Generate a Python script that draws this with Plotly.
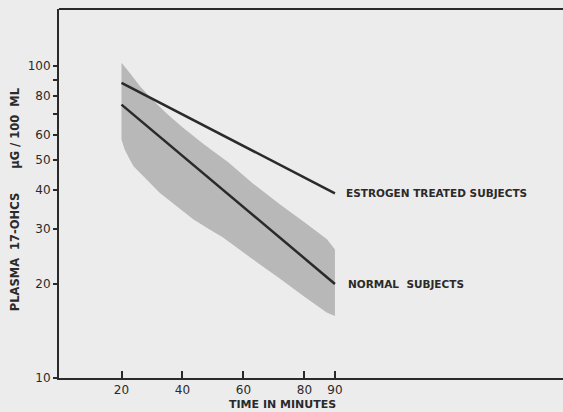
import math
import plotly.graph_objects as go

# Data
time_pts = [20, 90]
estrogen = [88, 39]
normal = [75, 20]

band_upper_x = [20, 23, 26, 30, 35, 40, 47, 55, 63, 71.9, 80, 87.4, 90, 90]
band_upper_y = [102, 94, 86, 78, 70, 63.5, 56, 49, 42, 36, 31.5, 27.8, 25.8, 15.8]
band_lower_x = [87.3, 80, 71.9, 62, 53.2, 48.9, 43.5, 38.0, 32.5, 27.1, 24, 22.7, 21, 20]
band_lower_y = [16.2, 18.2, 20.8, 24.4, 28.2, 29.9, 32.2, 35.5, 39.2, 44.3, 47.5, 50, 54, 58]

x_ticks = [20, 40, 60, 80, 90]
y_ticks = [10, 20, 30, 40, 50, 60, 70, 80, 90, 100]
y_ticktext = ["10", "20", "30", "40", "50", "60", "", "80", "", "100"]

INK = "#2a2a2a"
FONT = "DejaVu Sans"

fig = go.Figure()
fig.add_trace(go.Scatter(
    x=band_upper_x + band_lower_x,
    y=band_upper_y + band_lower_y,
    fill="toself", mode="none",
    fillcolor="rgb(184,184,184)",
    hoverinfo="skip", showlegend=False))
fig.add_trace(go.Scatter(x=time_pts, y=estrogen, mode="lines",
                         line=dict(color=INK, width=2.5), showlegend=False))
fig.add_trace(go.Scatter(x=time_pts, y=normal, mode="lines",
                         line=dict(color=INK, width=2.5), showlegend=False))

fig.add_annotation(x=93, y=math.log10(estrogen[-1]), text="ESTROGEN TREATED SUBJECTS",
                   showarrow=False, xanchor="left", yanchor="middle",
                   font=dict(family=FONT, size=10.5, color=INK, weight="bold"))
fig.add_annotation(x=93.5, y=math.log10(normal[-1]), text="NORMAL  SUBJECTS",
                   showarrow=False, xanchor="left", yanchor="middle",
                   font=dict(family=FONT, size=10.5, color=INK, weight="bold"))

fig.add_annotation(xref="paper", yref="paper", x=(282 - 59) / 504, y=-26.5 / 369.5,
                   text="TIME IN MINUTES", showarrow=False,
                   xanchor="center", yanchor="middle",
                   font=dict(family=FONT, size=11, color=INK, weight="bold"))
fig.add_annotation(xref="paper", yref="paper", x=-44 / 504, y=(379 - 200) / 369.5,
                   text="PLASMA  17-OHCS      μG / 100  ML", showarrow=False,
                   textangle=-90, xanchor="center", yanchor="middle",
                   font=dict(family=FONT, size=11.5, color=INK, weight="bold"))

# top frame line
fig.add_shape(type="line", xref="paper", yref="paper", x0=0, x1=1, y0=1, y1=1,
              line=dict(color=INK, width=2))

fig.update_xaxes(range=[-0.5, 164.8], tickvals=x_ticks, ticks="inside", ticklen=7,
                 tickwidth=2, tickcolor=INK, showline=True, linecolor=INK, linewidth=2,
                 showgrid=False, zeroline=False,
                 tickfont=dict(family=FONT, size=12, color=INK))
fig.update_yaxes(type="log", range=[1, 2.181], tickvals=y_ticks, ticktext=y_ticktext,
                 ticks="outside", ticklen=4, tickwidth=2, tickcolor=INK,
                 showline=True, linecolor=INK, linewidth=2, showgrid=False,
                 zeroline=False, tickfont=dict(family=FONT, size=12, color=INK))

fig.update_layout(width=563, height=412,
                  margin=dict(l=59, r=0, t=9, b=33.5),
                  paper_bgcolor="#ececec", plot_bgcolor="#ececec")

fig.write_html("out.html",
               config={"displayModeBar": False},
               post_script="document.body.style.margin='0';"
                           "document.body.style.overflow='hidden';")
